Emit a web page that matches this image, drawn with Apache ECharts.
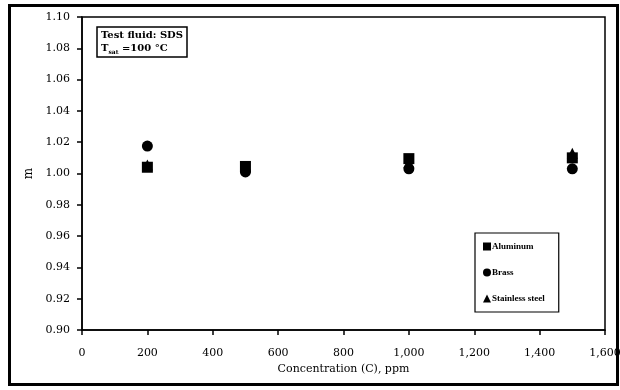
<!DOCTYPE html>
<html>
<head>
<meta charset="utf-8">
<style>
  html, body { margin: 0; padding: 0; background: #fff; }
  #frame { position: absolute; left: 8px; top: 4px; width: 605px; height: 376px; border: 3px solid #000; }
  #chart { position: absolute; left: 0; top: 0; width: 620px; height: 390px; }
</style>
<script src="https://cdn.jsdelivr.net/npm/echarts@6/dist/echarts.min.js"></script>
</head>
<body>
<div id="frame"></div>
<div id="chart"></div>
<script>
// Surfactant concentrations (ppm) and exponent m for each heater surface
var concentrations = [200, 500, 1000, 1500];
var aluminum = [1.004, 1.0045, 1.0095, 1.010];
var brass = [1.0175, 1.001, 1.003, 1.003];
var stainlessSteel = [1.0055, 1.004, 1.007, 1.013];
var xTicks = [0, 200, 400, 600, 800, 1000, 1200, 1400, 1600];
var yTicks = [0.90, 0.92, 0.94, 0.96, 0.98, 1.00, 1.02, 1.04, 1.06, 1.08, 1.10];

var FONT = 'DejaVu Serif';
var SMALL_FONT = 'Liberation Serif';

function pairs(values) {
  return concentrations.map(function (c, i) { return [c, values[i]]; });
}

var chart = echarts.init(document.getElementById('chart'), null, { renderer: 'canvas' });

chart.setOption({
  animation: false,
  backgroundColor: 'transparent',
  textStyle: { fontFamily: FONT, color: '#000' },
  title: {
    text: 'Test fluid: SDS\n{t|T}{s|sat}{t| =100 °C}',
    left: 97,
    top: 27,
    padding: [2, 4, 2, 4],
    borderColor: '#000',
    borderWidth: 1.5,
    textStyle: {
      fontFamily: FONT,
      fontSize: 10,
      fontWeight: 'bold',
      color: '#000',
      lineHeight: 13,
      rich: {
        t: { fontFamily: FONT, fontSize: 10, fontWeight: 'bold', color: '#000', lineHeight: 13 },
        s: { fontFamily: FONT, fontSize: 6, fontWeight: 'bold', color: '#000', verticalAlign: 'bottom', padding: [6, 0, 0, 0] }
      }
    }
  },
  legend: {
    orient: 'vertical',
    left: 475,
    top: 233,
    padding: [9, 14, 9, 8],
    itemGap: 17,
    itemWidth: 8,
    itemHeight: 8,
    borderColor: '#000',
    borderWidth: 1.2,
    backgroundColor: '#fff',
    textStyle: { fontFamily: SMALL_FONT, fontSize: 9, fontWeight: 'bold', color: '#000', padding: [0, 0, 0, -4] },
    data: [
      { name: 'Aluminum', icon: 'rect' },
      { name: 'Brass', icon: 'circle' },
      { name: 'Stainless steel', icon: 'triangle' }
    ]
  },
  grid: {
    left: 82, right: 15, top: 17, bottom: 60,
    containLabel: false,
    outerBoundsMode: 'none',
    show: true, borderColor: '#000', borderWidth: 1.5, backgroundColor: '#fff'
  },
  xAxis: {
    type: 'value',
    min: xTicks[0],
    max: xTicks[xTicks.length - 1],
    interval: 200,
    name: 'Concentration (C), ppm',
    nameLocation: 'middle',
    nameGap: 34,
    nameTextStyle: { fontFamily: FONT, fontSize: 11, color: '#000' },
    axisLine: { show: true, lineStyle: { color: '#000', width: 1.5 } },
    axisTick: { show: true, length: 5, lineStyle: { color: '#000', width: 1.5 } },
    splitLine: { show: false },
    axisLabel: {
      margin: 18,
      fontFamily: FONT,
      fontSize: 11,
      color: '#000',
      formatter: function (v) { return v.toLocaleString('en-US'); }
    }
  },
  yAxis: {
    type: 'value',
    min: yTicks[0],
    max: yTicks[yTicks.length - 1],
    interval: 0.02,
    name: 'm',
    nameLocation: 'middle',
    nameGap: 46,
    nameRotate: 90,
    nameTextStyle: { fontFamily: FONT, fontSize: 12, color: '#000' },
    axisLine: { show: true, lineStyle: { color: '#000', width: 1.5 } },
    axisTick: { show: true, length: 5, lineStyle: { color: '#000', width: 1.5 } },
    splitLine: { show: false },
    axisLabel: {
      margin: 12,
      fontFamily: FONT,
      fontSize: 11,
      color: '#000',
      formatter: function (v) { return v.toFixed(2); }
    }
  },
  series: [
    {
      name: 'Aluminum', type: 'scatter', symbol: 'rect', symbolSize: 11,
      itemStyle: { color: '#000', opacity: 1 }, data: pairs(aluminum)
    },
    {
      name: 'Brass', type: 'scatter', symbol: 'circle', symbolSize: 11,
      itemStyle: { color: '#000', opacity: 1 }, data: pairs(brass)
    },
    {
      name: 'Stainless steel', type: 'scatter', symbol: 'triangle', symbolSize: 11,
      itemStyle: { color: '#000', opacity: 1 }, data: pairs(stainlessSteel)
    }
  ]
});
</script>
</body>
</html>
